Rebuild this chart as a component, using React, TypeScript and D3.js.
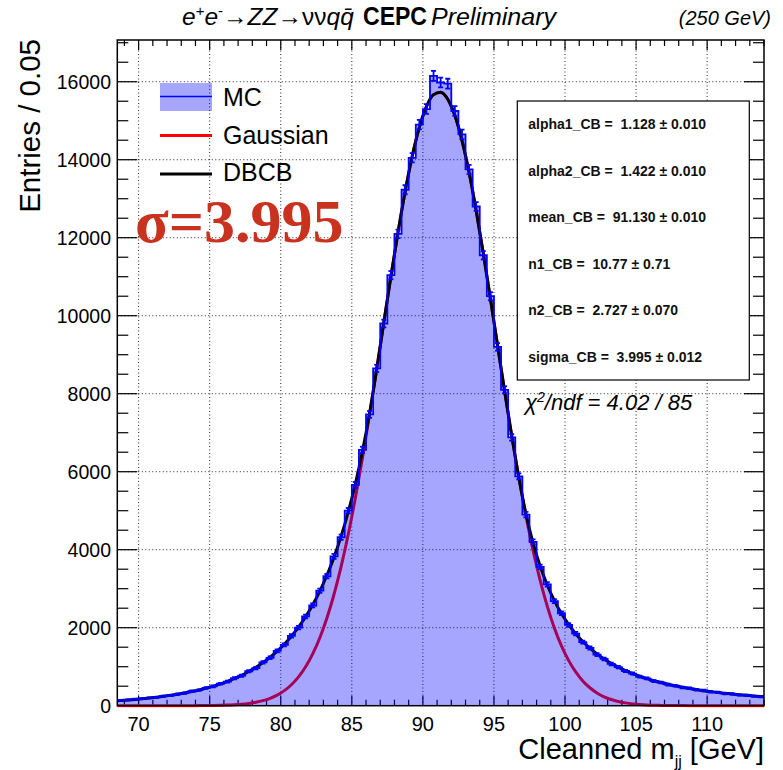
import React from 'react';
import * as d3 from 'd3';

// ---------------- data ----------------
const X_MIN = 68.5;
const X_MAX = 114;
const BIN_WIDTH = 0.5;
const Y_MAX = 17070;

const xTickValues = [70, 75, 80, 85, 90, 95, 100, 105, 110];
const yTickValues = [0, 2000, 4000, 6000, 8000, 10000, 12000, 14000, 16000];

// MC histogram bin contents (bins of 0.5 GeV from 68.5 to 114)
const mcCounts = [
  140, 150, 168, 182, 201, 214, 243, 262, 298, 322,
  370, 398, 455, 496, 563, 618, 705, 770, 884, 965,
  1110, 1228, 1405, 1560, 1790, 2000, 2290, 2570, 2950, 3320,
  3830, 4320, 5000, 5660, 6560, 7470, 8650, 9800, 11040, 12100,
  13230, 14050, 14900, 15300, 16150, 15980, 15950, 15250, 14650, 13750,
  12800, 11550, 10500, 9200, 8100, 6880, 5880, 4900, 4200, 3560,
  3110, 2680, 2370, 2070, 1850, 1630, 1480, 1310, 1200, 1070,
  990, 890, 825, 745, 700, 632, 595, 540, 512, 468,
  445, 405, 390, 352, 342, 310, 303, 275, 268, 245,
  228,
];

// DBCB fit curve read at the bin centres, plus the two frame edges
const dbcbEdges = [127, 231];
const dbcbCurve = [
  133, 146, 161, 178, 197, 217, 240, 266, 295, 327,
  364, 404, 450, 501, 559, 624, 698, 781, 876, 983,
  1104, 1242, 1399, 1577, 1782, 2015, 2282, 2588, 2940, 3344,
  3810, 4348, 4971, 5692, 6528, 7501, 8629, 9821, 11004, 12138,
  13181, 14090, 14829, 15363, 15669, 15733, 15552, 15133, 14498, 13673,
  12694, 11603, 10440, 9248, 8065, 6924, 5851, 4919, 4177, 3581,
  3095, 2695, 2362, 2083, 1847, 1647, 1475, 1326, 1197, 1085,
  987, 900, 824, 756, 695, 641, 593, 549, 510, 474,
  442, 413, 386, 362, 339, 319, 300, 282, 266, 252,
  238,
];

// Gaussian curve read at the bin centres
const gaussEdges = [0, 0];
const gaussCurve = [
  0, 0, 0, 0, 0, 0, 0, 0, 0, 0,
  0, 2, 4, 6, 10, 15, 24, 38, 58, 87,
  129, 189, 272, 386, 538, 739, 1000, 1331, 1744, 2250,
  2858, 3572, 4397, 5329, 6356, 7464, 8629, 9821, 11004, 12138,
  13181, 14090, 14829, 15363, 15669, 15733, 15552, 15133, 14498, 13673,
  12694, 11603, 10440, 9248, 8065, 6924, 5851, 4869, 3988, 3215,
  2553, 1995, 1535, 1163, 867, 636, 460, 327, 229, 158,
  107, 72, 47, 31, 20, 12, 8, 5, 3, 2,
  1, 0, 0, 0, 0, 0, 0, 0, 0, 0,
  0,
];

const paramNames = ['alpha1_CB', 'alpha2_CB', 'mean_CB', 'n1_CB', 'n2_CB', 'sigma_CB'];
const paramValues = ['1.128', '1.422', '91.130', '10.77', '2.727', '3.995'];
const paramErrors = ['0.010', '0.010', '0.010', '0.71', '0.070', '0.012'];

const legendLabels = ['MC', 'Gaussian', 'DBCB'];
const chi2Text = '4.02 / 85';
const sigmaText = 'σ=3.995';

// ---------------- layout ----------------
const W = 783;
const H = 770;
const F = { left: 117.3, right: 764, top: 40, bottom: 705.7 };
const SANS = '"Liberation Sans", Arial, Helvetica, sans-serif';
const SERIF = '"Liberation Serif", "Times New Roman", serif';
const FILL = 'rgba(0,0,255,0.35)';

export default function App() {
  const x = d3.scaleLinear().domain([X_MIN, X_MAX]).range([F.left, F.right]);
  const y = d3.scaleLinear().domain([0, Y_MAX]).range([F.bottom, F.top]);

  const bins = mcCounts.map((v, i) => {
    const x0 = X_MIN + i * BIN_WIDTH;
    return { x0, x1: x0 + BIN_WIDTH, xc: x0 + BIN_WIDTH / 2, v };
  });

  const stepPts: [number, number][] = [];
  bins.forEach((b) => {
    stepPts.push([b.x0, b.v]);
    stepPts.push([b.x1, b.v]);
  });
  const histArea = d3
    .area<[number, number]>()
    .x((d) => x(d[0]))
    .y0(y(0))
    .y1((d) => y(d[1]))(stepPts) as string;
  const histLine = d3
    .line<[number, number]>()
    .x((d) => x(d[0]))
    .y((d) => y(d[1]))(stepPts) as string;

  const curvePts = (edges: number[], vals: number[]): [number, number][] => [
    [X_MIN, edges[0]],
    ...vals.map((v, i) => [bins[i].xc, v] as [number, number]),
    [X_MAX, edges[1]],
  ];
  const curveGen = d3
    .line<[number, number]>()
    .x((d) => x(d[0]))
    .y((d) => y(d[1]))
    .curve(d3.curveMonotoneX);
  const dbcbPath = curveGen(curvePts(dbcbEdges, dbcbCurve)) as string;
  const gaussPath = curveGen(curvePts(gaussEdges, gaussCurve)) as string;

  const xMinor = d3.range(69, 114.001, 1);
  const yMinor = d3.range(0, Y_MAX, 500);

  const boxTop = 101;
  const boxBottom = 380;
  const boxLeft = 517.3;
  const boxRight = 749.3;
  const rowH = (boxBottom - boxTop) / paramNames.length;

  return (
    <svg
      width={W}
      height={H}
      style={{ position: 'absolute', left: 0, top: 0, background: '#fff' }}
      fontFamily={SANS}
    >
      <defs>
        <clipPath id="frameClip">
          <rect x={F.left} y={F.top} width={F.right - F.left} height={F.bottom - F.top + 2} />
        </clipPath>
      </defs>
      <rect x={0} y={0} width={W} height={H} fill="#fff" />

      {/* grid */}
      <g stroke="#000" strokeWidth={1} strokeDasharray="1,2.5" opacity={0.85}>
        {xTickValues.map((t) => (
          <line key={'gx' + t} x1={x(t)} x2={x(t)} y1={F.top} y2={F.bottom} />
        ))}
        {yTickValues
          .filter((t) => t > 0)
          .map((t) => (
            <line key={'gy' + t} x1={F.left} x2={F.right} y1={y(t)} y2={y(t)} />
          ))}
      </g>

      {/* ticks */}
      <g stroke="#000" strokeWidth={1.2}>
        {xMinor.map((t) => {
          const major = xTickValues.includes(Math.round(t)) && Math.abs(t - Math.round(t)) < 1e-6;
          const len = major ? 10 : 6;
          return (
            <g key={'xt' + t}>
              <line x1={x(t)} x2={x(t)} y1={F.bottom} y2={F.bottom - len} />
              <line x1={x(t)} x2={x(t)} y1={F.top} y2={F.top + len} />
            </g>
          );
        })}
        {yMinor.map((t) => {
          const major = t % 2000 === 0;
          const len = major ? 20 : 11;
          return (
            <g key={'yt' + t}>
              <line x1={F.left} x2={F.left + len} y1={y(t)} y2={y(t)} />
              <line x1={F.right} x2={F.right - len} y1={y(t)} y2={y(t)} />
            </g>
          );
        })}
      </g>

      {/* Gaussian (under the translucent fill), MC, DBCB */}
      <g clipPath="url(#frameClip)">
        <path d={gaussPath} fill="none" stroke="#ff0000" strokeWidth={3} />
        <path d={histArea} fill={FILL} stroke="none" />
        <path d={dbcbPath} fill="none" stroke="#000" strokeWidth={3} />
        <path d={histLine} fill="none" stroke="#0000ff" strokeWidth={1.8} />
        <g stroke="#0000ff" strokeWidth={1.8}>
          {bins.map((b, i) => {
            const e = Math.sqrt(b.v);
            const cx = x(b.xc);
            const yl = y(b.v - e);
            const yh = y(b.v + e);
            return (
              <g key={'e' + i}>
                <line x1={cx} x2={cx} y1={yl} y2={yh} />
                <line x1={cx - 2.5} x2={cx + 2.5} y1={yl} y2={yl} />
                <line x1={cx - 2.5} x2={cx + 2.5} y1={yh} y2={yh} />
              </g>
            );
          })}
        </g>
      </g>

      {/* frame */}
      <rect
        x={F.left}
        y={F.top}
        width={F.right - F.left}
        height={F.bottom - F.top}
        fill="none"
        stroke="#000"
        strokeWidth={1.5}
      />

      {/* tick labels */}
      <g fontSize={20} fill="#000">
        {xTickValues.map((t) => (
          <text key={'xl' + t} x={x(t)} y={731} textAnchor="middle">
            {t}
          </text>
        ))}
        {yTickValues.map((t) => (
          <text key={'yl' + t} x={111} y={y(t) + 7} textAnchor="end" fontSize={19.5}>
            {t}
          </text>
        ))}
      </g>

      {/* axis titles */}
      <text transform="translate(40,39) rotate(-90)" textAnchor="end" fontSize={29.5}>
        Entries / 0.05
      </text>
      <text x={F.right} y={759} textAnchor="end" fontSize={29}>
        Cleanned m
        <tspan dy={8} fontSize={16}>jj</tspan>
        <tspan dy={-8}> [GeV]</tspan>
      </text>

      {/* title */}
      <text x={182} y={25} fontSize={24.5}>
        <tspan fontStyle="italic">e</tspan>
        <tspan dy={-9} fontSize={15}>+</tspan>
        <tspan dy={9} fontStyle="italic">e</tspan>
        <tspan dy={-9} fontSize={15}>-</tspan>
        <tspan dy={9}>→</tspan>
        <tspan fontStyle="italic">ZZ</tspan>
        <tspan>→νν</tspan>
        <tspan fontStyle="italic">q</tspan>
        <tspan fontStyle="italic">{'q\u0304'}</tspan>
      </text>
      <text x={363} y={25} fontSize={25} fontWeight="bold" textLength={64} lengthAdjust="spacingAndGlyphs">
        CEPC
      </text>
      <text x={431} y={25} fontSize={24.5} fontStyle="italic" textLength={125} lengthAdjust="spacingAndGlyphs">
        Preliminary
      </text>
      <text x={771} y={25} fontSize={20} fontStyle="italic" textAnchor="end">
        (250 GeV)
      </text>

      {/* legend */}
      <rect x={160} y={83} width={52} height={28} fill={FILL} />
      <line x1={160} x2={212} y1={96.5} y2={96.5} stroke="#0000ff" strokeWidth={1.5} />
      <line x1={160} x2={212} y1={135.5} y2={135.5} stroke="#ff0000" strokeWidth={3} />
      <line x1={160} x2={212} y1={174} y2={174} stroke="#000" strokeWidth={3} />
      <g fontSize={25} fill="#000">
        <text x={223} y={105.5}>{legendLabels[0]}</text>
        <text x={223} y={144}>{legendLabels[1]}</text>
        <text x={223} y={180.5}>{legendLabels[2]}</text>
      </g>

      {/* sigma */}
      <text x={135} y={242} fontFamily={SERIF} fontWeight="bold" fontSize={62} fill="#c8321e">
        {sigmaText}
      </text>

      {/* fit parameter box */}
      <rect
        x={boxLeft}
        y={boxTop}
        width={boxRight - boxLeft}
        height={boxBottom - boxTop}
        fill="#fff"
        stroke="#000"
        strokeWidth={1.2}
      />
      <g fontSize={14} fontWeight="bold" fill="#111">
        {paramNames.map((n, i) => (
          <text key={n} x={528.3} y={boxTop + rowH * (i + 0.5) + 5} xmlSpace="preserve">
            {`${n} =  ${paramValues[i]} ± ${paramErrors[i]}`}
          </text>
        ))}
      </g>
      <text x={525} y={410} fontSize={22} fontStyle="italic">
        χ<tspan dy={-8} fontSize={14}>2</tspan>
        <tspan dy={8}>/ndf = {chi2Text}</tspan>
      </text>
    </svg>
  );
}
